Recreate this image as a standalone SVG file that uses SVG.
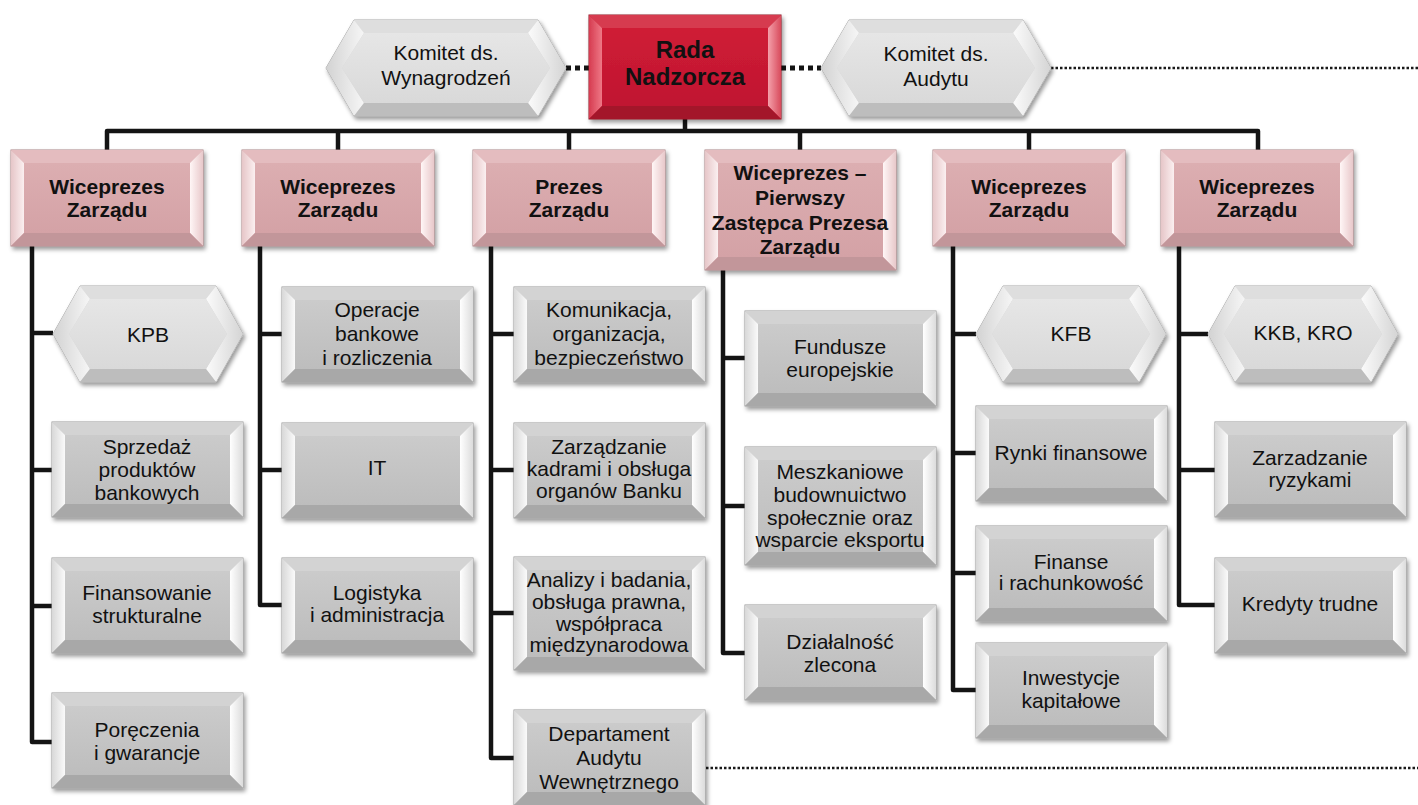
<svg xmlns="http://www.w3.org/2000/svg" xmlns:xlink="http://www.w3.org/1999/xlink" width="1418" height="805" viewBox="0 0 1418 805">
<style>
.t{font-family:"Liberation Sans",Arial,sans-serif;font-size:21px;fill:#111111;text-anchor:middle}
.b{font-weight:bold}
.rb{font-size:24px}
.ln{fill:none;stroke:#141414;stroke-width:4.5;stroke-linejoin:round;stroke-linecap:butt}
.dk{fill:none;stroke:#141414;stroke-width:5;stroke-dasharray:5 4}
.dt{fill:none;stroke:#1a1a1a;stroke-width:2.5;stroke-dasharray:2.5 2}
.go{fill:#c4c4c4;stroke:#9a9a9a;stroke-width:1}
.gt{fill:#d3d3d3}.gl{fill:url(#gL)}.gr{fill:url(#gR)}.gb{fill:#a8a8a8}.gf{fill:url(#gF)}
.po{fill:#d8a8ab;stroke:#a98486;stroke-width:1}
.pt{fill:#e4bcbf}.pl{fill:url(#pL)}.pr{fill:url(#pR)}.pb{fill:#c2969a}.pf{fill:url(#pF)}
.ro{fill:#c8172f;stroke:#8e1020;stroke-width:1}
.rt{fill:#d63a4f}.rl{fill:url(#rL)}.rr{fill:url(#rR)}.rbt{fill:#a3122a}.rf{fill:url(#rF)}
.ho{fill:#d6d6d6;stroke:#a8a8a8;stroke-width:1}
.ht{fill:#dedede}.hl{fill:url(#hL)}.hr{fill:url(#hR)}.hb{fill:#bdbdbd}.hf{fill:url(#hF)}
</style>
<defs>
<filter id="sh" x="-10%" y="-10%" width="130%" height="140%">
<feDropShadow dx="2" dy="3" stdDeviation="2" flood-color="#000" flood-opacity="0.4"/>
</filter>
<linearGradient id="gF" x1="0" y1="0" x2="0" y2="1"><stop offset="0" stop-color="#cbcbcb"/><stop offset="1" stop-color="#bdbdbd"/></linearGradient>
<linearGradient id="gL" x1="0" y1="0" x2="1" y2="0"><stop offset="0" stop-color="#d8d8d8"/><stop offset="1" stop-color="#fafafa"/></linearGradient>
<linearGradient id="gR" x1="0" y1="0" x2="1" y2="0"><stop offset="0" stop-color="#ffffff"/><stop offset="1" stop-color="#dcdcdc"/></linearGradient>
<linearGradient id="pF" x1="0" y1="0" x2="0" y2="1"><stop offset="0" stop-color="#dcaeb1"/><stop offset="1" stop-color="#d4a2a6"/></linearGradient>
<linearGradient id="pL" x1="0" y1="0" x2="1" y2="0"><stop offset="0" stop-color="#e6c6c8"/><stop offset="1" stop-color="#fbeff0"/></linearGradient>
<linearGradient id="pR" x1="0" y1="0" x2="1" y2="0"><stop offset="0" stop-color="#fff6f6"/><stop offset="1" stop-color="#e8c8ca"/></linearGradient>
<linearGradient id="rF" x1="0" y1="0" x2="0" y2="1"><stop offset="0" stop-color="#cf1d36"/><stop offset="1" stop-color="#c01530"/></linearGradient>
<linearGradient id="rL" x1="0" y1="0" x2="1" y2="0"><stop offset="0" stop-color="#d63c50"/><stop offset="1" stop-color="#ee7886"/></linearGradient>
<linearGradient id="rR" x1="0" y1="0" x2="1" y2="0"><stop offset="0" stop-color="#f4a0aa"/><stop offset="1" stop-color="#d84a5c"/></linearGradient>
<linearGradient id="hF" x1="0" y1="0" x2="0" y2="1"><stop offset="0" stop-color="#e6e6e6"/><stop offset="1" stop-color="#d9d9d9"/></linearGradient>
<linearGradient id="hL" x1="0" y1="0" x2="1" y2="0"><stop offset="0" stop-color="#d2d2d2"/><stop offset="1" stop-color="#f6f6f6"/></linearGradient>
<linearGradient id="hR" x1="0" y1="0" x2="1" y2="0"><stop offset="0" stop-color="#fbfbfb"/><stop offset="1" stop-color="#d4d4d4"/></linearGradient>

<g id="g95">
<rect class="go" x="0" y="0" width="191" height="95"/>
<polygon class="gt" points="0,0 191,0 178,13 13,13"/>
<polygon class="gl" points="0,0 13,13 13,82 0,95"/>
<polygon class="gr" points="191,0 191,95 178,82 178,13"/>
<polygon class="gb" points="0,95 13,82 178,82 191,95"/>
<rect class="gf" x="13" y="13" width="165" height="69"/>
</g>
<g id="g113">
<rect class="go" x="0" y="0" width="191" height="113"/>
<polygon class="gt" points="0,0 191,0 178,13 13,13"/>
<polygon class="gl" points="0,0 13,13 13,100 0,113"/>
<polygon class="gr" points="191,0 191,113 178,100 178,13"/>
<polygon class="gb" points="0,113 13,100 178,100 191,113"/>
<rect class="gf" x="13" y="13" width="165" height="87"/>
</g>
<g id="g118">
<rect class="go" x="0" y="0" width="191" height="118"/>
<polygon class="gt" points="0,0 191,0 178,13 13,13"/>
<polygon class="gl" points="0,0 13,13 13,105 0,118"/>
<polygon class="gr" points="191,0 191,118 178,105 178,13"/>
<polygon class="gb" points="0,118 13,105 178,105 191,118"/>
<rect class="gf" x="13" y="13" width="165" height="92"/>
</g>
<g id="p96">
<rect class="po" x="0" y="0" width="192" height="96"/>
<polygon class="pt" points="0,0 192,0 179,13 13,13"/>
<polygon class="pl" points="0,0 13,13 13,83 0,96"/>
<polygon class="pr" points="192,0 192,96 179,83 179,13"/>
<polygon class="pb" points="0,96 13,83 179,83 192,96"/>
<rect class="pf" x="13" y="13" width="166" height="70"/>
</g>
<g id="p120">
<rect class="po" x="0" y="0" width="191" height="120"/>
<polygon class="pt" points="0,0 191,0 178,13 13,13"/>
<polygon class="pl" points="0,0 13,13 13,107 0,120"/>
<polygon class="pr" points="191,0 191,120 178,107 178,13"/>
<polygon class="pb" points="0,120 13,107 178,107 191,120"/>
<rect class="pf" x="13" y="13" width="165" height="94"/>
</g>
<g id="r104">
<rect class="ro" x="0" y="0" width="192" height="104"/>
<polygon class="rt" points="0,0 192,0 179,13 13,13"/>
<polygon class="rl" points="0,0 13,13 13,91 0,104"/>
<polygon class="rr" points="192,0 192,104 179,91 179,13"/>
<polygon class="rbt" points="0,104 13,91 179,91 192,104"/>
<rect class="rf" x="13" y="13" width="166" height="78"/>
</g>
<g id="h190">
<polygon class="ho" points="0,48 27,0 163,0 190,48 163,96 27,96"/>
<polygon class="ht" points="27,0 163,0 153,13 37,13"/>
<polygon class="hl" points="0,48 27,0 37,13 16,48"/>
<polygon class="hl" points="0,48 16,48 37,83 27,96"/>
<polygon class="hr" points="163,0 190,48 174,48 153,13"/>
<polygon class="hr" points="190,48 163,96 153,83 174,48"/>
<polygon class="hb" points="27,96 37,83 153,83 163,96"/>
<polygon class="hf" points="16,48 37,13 153,13 174,48 153,83 37,83"/>
</g>
<g id="h240">
<polygon class="ho" points="0,48 28,0 212,0 240,48 212,96 28,96"/>
<polygon class="ht" points="28,0 212,0 202,13 38,13"/>
<polygon class="hl" points="0,48 28,0 38,13 16,48"/>
<polygon class="hl" points="0,48 16,48 38,83 28,96"/>
<polygon class="hr" points="212,0 240,48 224,48 202,13"/>
<polygon class="hr" points="240,48 212,96 202,83 224,48"/>
<polygon class="hb" points="28,96 38,83 202,83 212,96"/>
<polygon class="hf" points="16,48 38,13 202,13 224,48 202,83 38,83"/>
</g>
<g id="h230">
<polygon class="ho" points="0,48 28,0 202,0 230,48 202,96 28,96"/>
<polygon class="ht" points="28,0 202,0 192,13 38,13"/>
<polygon class="hl" points="0,48 28,0 38,13 16,48"/>
<polygon class="hl" points="0,48 16,48 38,83 28,96"/>
<polygon class="hr" points="202,0 230,48 214,48 192,13"/>
<polygon class="hr" points="230,48 202,96 192,83 214,48"/>
<polygon class="hb" points="28,96 38,83 192,83 202,96"/>
<polygon class="hf" points="16,48 38,13 192,13 214,48 192,83 38,83"/>
</g>
</defs>

<rect x="0" y="0" width="1418" height="805" fill="#ffffff"/>

<g id="connectors">
<path class="ln" d="M685,119 V131"/>
<path class="ln" d="M107,150 V131 H1258 V150"/>
<path class="ln" d="M338,131 V150 M569,131 V150 M800,131 V150 M1029,131 V150"/>
<path class="ln" d="M53,333 H32 V246 M32,470 H52 M32,606 H52 M52,742 H32 V333"/>
<path class="ln" d="M282,334 H260 V246 M260,470 H282 M282,605 H260 V334"/>
<path class="ln" d="M514,334 H491 V246 M491,470 H514 M491,613 H514 M514,758 H491 V334"/>
<path class="ln" d="M745,358 H723 V270 M723,506 H745 M745,653 H723 V358"/>
<path class="ln" d="M976,334 H953 V246 M953,453 H976 M953,573 H976 M976,690 H953 V334"/>
<path class="ln" d="M1208,334 H1179 V246 M1179,470 H1215 M1215,605 H1179 V334"/>
<path class="dk" d="M566,68 H589"/>
<path class="dk" d="M781,68 H821"/>
<path class="dt" d="M1051,68 H1418"/>
<path class="dt" d="M706,768 H1418"/>
</g>

<g id="rada"><use href="#r104" x="589" y="15" filter="url(#sh)"/>
<text class="t b rb" x="685" y="58">Rada</text><text class="t b rb" x="685" y="85">Nadzorcza</text></g>

<g id="komitet-wynagrodzen"><use href="#h240" x="326" y="20" filter="url(#sh)"/>
<text class="t" x="446" y="60">Komitet ds.</text><text class="t" x="446" y="85">Wynagrodzeń</text></g>

<g id="komitet-audytu"><use href="#h230" x="821" y="20" filter="url(#sh)"/>
<text class="t" x="936" y="61">Komitet ds.</text><text class="t" x="936" y="86">Audytu</text></g>

<g id="vp1"><use href="#p96" x="11" y="150" filter="url(#sh)"/>
<text class="t b" x="107" y="194">Wiceprezes</text><text class="t b" x="107" y="217">Zarządu</text></g>
<g id="vp2"><use href="#p96" x="242" y="150" filter="url(#sh)"/>
<text class="t b" x="338" y="194">Wiceprezes</text><text class="t b" x="338" y="217">Zarządu</text></g>
<g id="prezes"><use href="#p96" x="473" y="150" filter="url(#sh)"/>
<text class="t b" x="569" y="194">Prezes</text><text class="t b" x="569" y="217">Zarządu</text></g>
<g id="vp-pierwszy"><use href="#p120" x="705" y="150" filter="url(#sh)"/>
<text class="t b" x="800" y="180">Wiceprezes –</text><text class="t b" x="800" y="205">Pierwszy</text>
<text class="t b" x="800" y="230">Zastępca Prezesa</text><text class="t b" x="800" y="254">Zarządu</text></g>
<g id="vp5"><use href="#p96" x="933" y="150" filter="url(#sh)"/>
<text class="t b" x="1029" y="194">Wiceprezes</text><text class="t b" x="1029" y="217">Zarządu</text></g>
<g id="vp6"><use href="#p96" x="1161" y="150" filter="url(#sh)"/>
<text class="t b" x="1257" y="194">Wiceprezes</text><text class="t b" x="1257" y="217">Zarządu</text></g>

<g id="kpb"><use href="#h190" x="53" y="286" filter="url(#sh)"/>
<text class="t" x="148" y="342">KPB</text></g>
<g id="sprzedaz"><use href="#g95" x="52" y="422" filter="url(#sh)"/>
<text class="t" x="147" y="454">Sprzedaż</text><text class="t" x="147" y="477">produktów</text><text class="t" x="147" y="500">bankowych</text></g>
<g id="finansowanie"><use href="#g95" x="52" y="558" filter="url(#sh)"/>
<text class="t" x="147" y="600">Finansowanie</text><text class="t" x="147" y="623">strukturalne</text></g>
<g id="poreczenia"><use href="#g95" x="52" y="693" filter="url(#sh)"/>
<text class="t" x="147" y="737">Poręczenia</text><text class="t" x="147" y="760">i gwarancje</text></g>

<g id="operacje"><use href="#g95" x="282" y="287" filter="url(#sh)"/>
<text class="t" x="377" y="317">Operacje</text><text class="t" x="377" y="341">bankowe</text><text class="t" x="377" y="365">i rozliczenia</text></g>
<g id="it"><use href="#g95" x="282" y="423" filter="url(#sh)"/>
<text class="t" x="377" y="475">IT</text></g>
<g id="logistyka"><use href="#g95" x="282" y="558" filter="url(#sh)"/>
<text class="t" x="377" y="600">Logistyka</text><text class="t" x="377" y="622">i administracja</text></g>

<g id="komunikacja"><use href="#g95" x="514" y="287" filter="url(#sh)"/>
<text class="t" x="609" y="317">Komunikacja,</text><text class="t" x="609" y="341">organizacja,</text><text class="t" x="609" y="365">bezpieczeństwo</text></g>
<g id="kadry"><use href="#g95" x="514" y="423" filter="url(#sh)"/>
<text class="t" x="609" y="454">Zarządzanie</text><text class="t" x="609" y="476">kadrami i obsługa</text><text class="t" x="609" y="498">organów Banku</text></g>
<g id="analizy"><use href="#g113" x="514" y="557" filter="url(#sh)"/>
<text class="t" x="609" y="587">Analizy i badania,</text><text class="t" x="609" y="609">obsługa prawna,</text>
<text class="t" x="609" y="631">współpraca</text><text class="t" x="609" y="652">międzynarodowa</text></g>
<g id="audyt-wewn"><use href="#g95" x="514" y="710" filter="url(#sh)"/>
<text class="t" x="609" y="741">Departament</text><text class="t" x="609" y="765">Audytu</text><text class="t" x="609" y="789">Wewnętrznego</text></g>

<g id="fundusze"><use href="#g95" x="745" y="311" filter="url(#sh)"/>
<text class="t" x="840" y="354">Fundusze</text><text class="t" x="840" y="377">europejskie</text></g>
<g id="mieszkaniowe"><use href="#g118" x="745" y="447" filter="url(#sh)"/>
<text class="t" x="840" y="479">Meszkaniowe</text><text class="t" x="840" y="502">budownuictwo</text>
<text class="t" x="840" y="525">społecznie oraz</text><text class="t" x="840" y="547">wsparcie eksportu</text></g>
<g id="zlecona"><use href="#g95" x="745" y="605" filter="url(#sh)"/>
<text class="t" x="840" y="649">Działalność</text><text class="t" x="840" y="672">zlecona</text></g>

<g id="kfb"><use href="#h190" x="976" y="286" filter="url(#sh)"/>
<text class="t" x="1071" y="341">KFB</text></g>
<g id="rynki"><use href="#g95" x="976" y="406" filter="url(#sh)"/>
<text class="t" x="1071" y="460">Rynki finansowe</text></g>
<g id="finanse"><use href="#g95" x="976" y="526" filter="url(#sh)"/>
<text class="t" x="1071" y="569">Finanse</text><text class="t" x="1071" y="590">i rachunkowość</text></g>
<g id="inwestycje"><use href="#g95" x="976" y="643" filter="url(#sh)"/>
<text class="t" x="1071" y="685">Inwestycje</text><text class="t" x="1071" y="708">kapitałowe</text></g>

<g id="kkb-kro"><use href="#h190" x="1208" y="286" filter="url(#sh)"/>
<text class="t" x="1303" y="340">KKB, KRO</text></g>
<g id="ryzyka"><use href="#g95" x="1215" y="422" filter="url(#sh)"/>
<text class="t" x="1310" y="465">Zarzadzanie</text><text class="t" x="1310" y="487">ryzykami</text></g>
<g id="kredyty"><use href="#g95" x="1215" y="558" filter="url(#sh)"/>
<text class="t" x="1310" y="611">Kredyty trudne</text></g>
</svg>
